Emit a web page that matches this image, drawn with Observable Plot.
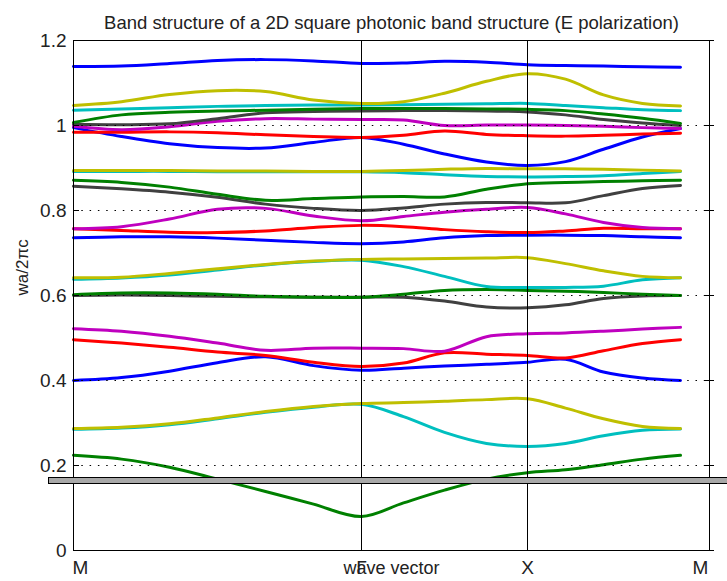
<!DOCTYPE html>
<html><head><meta charset="utf-8">
<script src="https://cdn.jsdelivr.net/npm/d3@7"></script>
<script src="https://cdn.jsdelivr.net/npm/@observablehq/plot@0.6"></script>
<style>
body{margin:0;background:#fff;}
</style></head><body><div id="chart"></div>
<script>
// ---- data ----
const titleText = "Band structure of a 2D square photonic band structure (E polarization)";
const yLabel = "wa/2πc";
const xLabel = "wave vector";
// k positions along the path M -> Γ -> X -> M (arbitrary path units)
const kPoints = [0,48,96,144,192,240,288,330,371,413,454,492,530,569,607];
const kAxisMax = 636;
const kTickPositions = [7, 288, 454, 627];
const kTickLabels = ["M","Γ","X","M"];
const symmetryLines = [288, 454];
const yTicks = [0,0.2,0.4,0.6,0.8,1,1.2];
const gridLevels = [0.2,0.4,0.6,0.8,1.0];
const barLevel = 0.165;

const band01 = [0.224,0.215,0.196,0.168,0.139,0.109,0.08,0.112,0.142,0.168,0.183,0.19,0.202,0.215,0.224];
const band02 = [0.285,0.288,0.296,0.31,0.325,0.337,0.344,0.315,0.278,0.252,0.245,0.252,0.27,0.283,0.286];
const band03 = [0.287,0.29,0.298,0.312,0.327,0.339,0.346,0.348,0.351,0.355,0.357,0.335,0.31,0.292,0.287];
const band04 = [0.40,0.407,0.422,0.442,0.456,0.435,0.424,0.429,0.434,0.438,0.443,0.45,0.42,0.406,0.40];
const band05 = [0.496,0.488,0.478,0.467,0.459,0.443,0.433,0.441,0.465,0.462,0.459,0.453,0.47,0.487,0.496];
const band06 = [0.522,0.516,0.504,0.488,0.471,0.476,0.476,0.475,0.469,0.503,0.51,0.512,0.516,0.521,0.525];
const band07 = [0.60,0.601,0.60,0.598,0.597,0.596,0.596,0.596,0.587,0.573,0.571,0.578,0.593,0.599,0.60];
const band08 = [0.602,0.606,0.606,0.603,0.598,0.596,0.596,0.603,0.612,0.614,0.612,0.61,0.607,0.603,0.60];
const band09 = [0.638,0.641,0.648,0.66,0.672,0.68,0.683,0.668,0.645,0.621,0.619,0.619,0.622,0.637,0.642];
const band10 = [0.642,0.643,0.652,0.663,0.673,0.681,0.685,0.686,0.687,0.688,0.689,0.675,0.658,0.645,0.642];
const band11 = [0.736,0.738,0.738,0.735,0.73,0.725,0.722,0.726,0.736,0.741,0.742,0.742,0.741,0.738,0.736];
const band12 = [0.757,0.753,0.749,0.748,0.752,0.76,0.765,0.762,0.755,0.75,0.748,0.752,0.758,0.757,0.757];
const band13 = [0.757,0.762,0.78,0.803,0.805,0.787,0.776,0.786,0.796,0.803,0.807,0.792,0.772,0.76,0.757];
const band14 = [0.857,0.851,0.843,0.831,0.815,0.805,0.80,0.806,0.815,0.819,0.818,0.818,0.835,0.852,0.859];
const band15 = [0.871,0.866,0.855,0.838,0.824,0.828,0.832,0.833,0.832,0.85,0.863,0.866,0.868,0.87,0.871];
const band16 = [0.892,0.892,0.892,0.891,0.891,0.891,0.891,0.889,0.884,0.88,0.879,0.88,0.882,0.887,0.892];
const band17 = [0.894,0.894,0.894,0.893,0.893,0.892,0.892,0.894,0.897,0.899,0.898,0.898,0.897,0.895,0.893];
const band18 = [0.995,0.974,0.957,0.948,0.947,0.96,0.972,0.956,0.933,0.914,0.906,0.915,0.944,0.973,0.993];
const band19 = [0.984,0.984,0.985,0.983,0.978,0.974,0.972,0.977,0.987,0.979,0.976,0.975,0.977,0.98,0.982];
const band20 = [0.998,0.99,0.997,1.01,1.016,1.015,1.014,1.013,1.0,1.001,1.001,1.0,0.998,0.995,0.993];
const band21 = [1.003,1.002,1.004,1.016,1.03,1.033,1.034,1.035,1.035,1.034,1.032,1.025,1.014,1.006,1.0];
const band22 = [1.007,1.025,1.031,1.034,1.036,1.038,1.04,1.04,1.04,1.039,1.038,1.035,1.027,1.017,1.005];
const band23 = [1.036,1.039,1.042,1.045,1.047,1.048,1.048,1.049,1.05,1.051,1.052,1.047,1.042,1.037,1.035];
const band24 = [1.047,1.056,1.073,1.082,1.08,1.06,1.052,1.056,1.076,1.104,1.122,1.109,1.072,1.052,1.046];
const band25 = [1.139,1.14,1.146,1.153,1.155,1.152,1.146,1.147,1.151,1.149,1.143,1.141,1.14,1.138,1.137];

const colorCycle = ["#008000","#00bfbf","#bfbf00","#0000ff","#ff0000","#bf00bf","#404040"];

// ---- build ----
const bands = [band01,band02,band03,band04,band05,band06,band07,band08,band09,band10,band11,band12,band13,
  band14,band15,band16,band17,band18,band19,band20,band21,band22,band23,band24,band25];

const FONT = "'Liberation Sans', Arial, sans-serif";

const bandMarks = bands.map((vals, i) =>
  Plot.line(vals.map((w, j) => ({k: kPoints[j], w})), {
    x: "k", y: "w", stroke: colorCycle[i % colorCycle.length], strokeWidth: 3, curve: "catmull-rom"
  })
);

const chart = Plot.plot({
  width: 727, height: 581,
  marginLeft: 73, marginRight: 18, marginTop: 40, marginBottom: 31,
  style: {fontFamily: FONT, background: "#fff", color: "#000"},
  x: {domain: [0, kAxisMax], axis: null},
  y: {domain: [0, 1.2], axis: null},
  marks: [
    ...bandMarks,
    Plot.ruleY(gridLevels, {stroke: "#000", strokeWidth: 1.2, strokeDasharray: "1.5,6.8"}),
    Plot.ruleX(symmetryLines, {stroke: "#000", strokeWidth: 1}),
    Plot.frame({stroke: "#000", strokeWidth: 1}),
    Plot.axisY({ticks: yTicks, anchor: "left", tickSize: 6, dx: 6, tickFormat: () => "", label: null}),
    Plot.axisY({ticks: yTicks, anchor: "right", tickSize: 10, dx: -6, tickFormat: () => "", label: null}),
    Plot.axisY({ticks: yTicks, anchor: "left", tickSize: 0, tickPadding: 7, tickFormat: d => String(d),
      fontSize: 19, fill: "#222", label: null}),
    Plot.axisX({ticks: kTickPositions, anchor: "bottom", tickSize: 0, tickPadding: 10,
      tickFormat: d => kTickLabels[kTickPositions.indexOf(d)], fontSize: 19, fill: "#222", label: null}),
    Plot.text([xLabel], {frameAnchor: "bottom", dy: 23, fontSize: 18, fill: "#222"}),
    Plot.text([titleText], {frameAnchor: "top", dy: -25, fontSize: 18.5, fill: "#222"}),
    Plot.text([yLabel], {frameAnchor: "left", rotate: -90, dx: -51, fontSize: 17, fill: "#222"}),
    Plot.ruleY([barLevel], {stroke: "#000", strokeWidth: 7, insetLeft: -25, insetRight: -18}),
    Plot.ruleY([barLevel], {stroke: "#a8a8a8", strokeWidth: 5, insetLeft: -24, insetRight: -18})
  ]
});
document.getElementById("chart").appendChild(chart);
</script></body></html>
